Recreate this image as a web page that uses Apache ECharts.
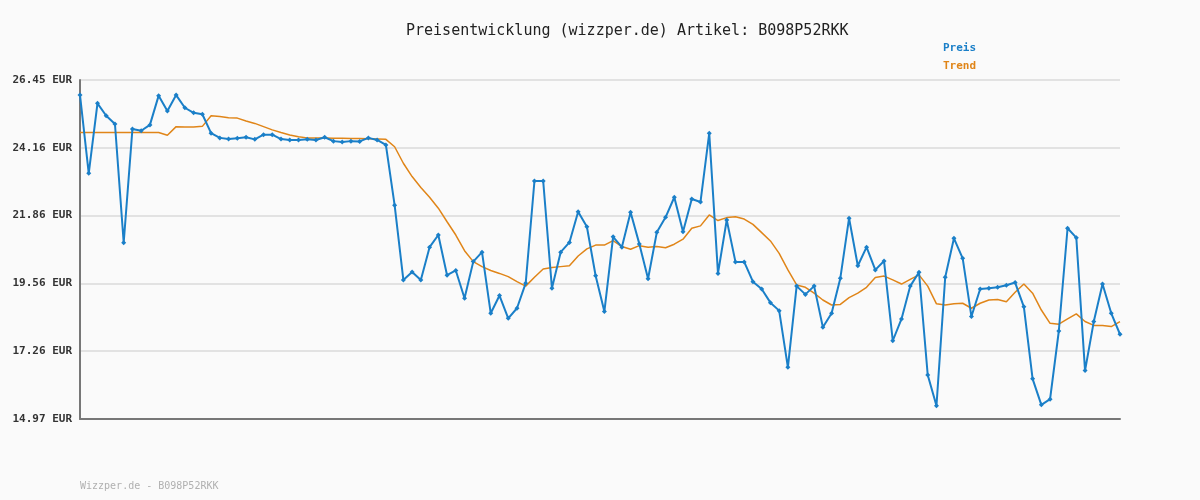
<!DOCTYPE html>
<html>
<head>
<meta charset="utf-8">
<script src="https://cdn.jsdelivr.net/npm/echarts@6/dist/echarts.min.js"></script>
<style>
  html, body { margin: 0; padding: 0; background: #fafafa; }
  #main { width: 1200px; height: 500px; }
</style>
</head>
<body>
<div id="main"></div>
<script>
var preis = [25.94, 23.29, 25.66, 25.24, 24.96, 20.94, 24.79, 24.73, 24.93, 25.92,
  25.40, 25.94, 25.51, 25.34, 25.29, 24.65, 24.49, 24.45, 24.48, 24.51,
  24.44, 24.60, 24.60, 24.45, 24.42, 24.42, 24.44, 24.42, 24.51, 24.38,
  24.35, 24.38, 24.37, 24.49, 24.42, 24.25, 22.21, 19.68, 19.95, 19.68,
  20.79, 21.20, 19.84, 20.00, 19.06, 20.30, 20.62, 18.55, 19.15, 18.38,
  18.72, 19.57, 23.03, 23.03, 19.40, 20.62, 20.95, 21.99, 21.48, 19.82,
  18.61, 21.14, 20.79, 21.97, 20.90, 19.72, 21.29, 21.80, 22.48, 21.31,
  22.42, 22.32, 24.65, 19.90, 21.71, 20.29, 20.29, 19.62, 19.37, 18.91,
  18.64, 16.72, 19.47, 19.19, 19.47, 18.08, 18.55, 19.74, 21.77, 20.16,
  20.79, 20.02, 20.32, 17.62, 18.36, 19.47, 19.94, 16.46, 15.42, 19.77,
  21.09, 20.41, 18.44, 19.37, 19.40, 19.43, 19.50, 19.59, 18.77, 16.33,
  15.45, 15.64, 17.95, 21.43, 21.11, 16.61, 18.27, 19.54, 18.55, 17.84];

var trend = [24.67, 24.67, 24.67, 24.67, 24.67, 24.67, 24.67, 24.67, 24.67, 24.67,
  24.58, 24.87, 24.86, 24.86, 24.88, 25.24, 25.21, 25.17, 25.16, 25.06,
  24.98, 24.87, 24.76, 24.67, 24.59, 24.53, 24.49, 24.49, 24.49, 24.48,
  24.48, 24.47, 24.47, 24.46, 24.45, 24.44, 24.19, 23.63, 23.18, 22.81,
  22.48, 22.11, 21.65, 21.20, 20.67, 20.30, 20.13, 20.00, 19.90, 19.79,
  19.62, 19.47, 19.77, 20.05, 20.10, 20.13, 20.16, 20.49, 20.73, 20.86,
  20.86, 21.01, 20.81, 20.72, 20.84, 20.79, 20.81, 20.77, 20.89, 21.06,
  21.43, 21.51, 21.88, 21.69, 21.79, 21.82, 21.74, 21.56, 21.28, 21.00,
  20.58, 20.02, 19.51, 19.43, 19.23, 19.00, 18.83, 18.85, 19.08, 19.23,
  19.43, 19.76, 19.81, 19.68, 19.54, 19.70, 19.85, 19.47, 18.87, 18.83,
  18.87, 18.89, 18.72, 18.89, 19.00, 19.02, 18.94, 19.26, 19.54, 19.23,
  18.66, 18.21, 18.18, 18.36, 18.53, 18.27, 18.14, 18.14, 18.10, 18.27];

var tickValues = [14.97, 17.26, 19.56, 21.86, 24.16, 26.45];
var categories = preis.map(function (v, i) { return i + 1; });

var mono = "DejaVu Sans Mono";
var chartDom = document.getElementById("main");
var myChart = echarts.init(chartDom);
var option = {
  backgroundColor: "#fafafa",
  animation: false,
  title: {
    text: "Preisentwicklung (wizzper.de) Artikel: B098P52RKK",
    left: 401,
    top: 19,
    textStyle: { fontFamily: mono, fontSize: 15, fontWeight: "normal", color: "#222" }
  },
  legend: {
    orient: "vertical",
    left: 938,
    top: 38,
    itemWidth: 0,
    itemHeight: 0,
    itemGap: 7,
    icon: "none",
    textStyle: { fontFamily: mono, fontSize: 11, fontWeight: "bold", padding: [0, 0, 0, -5] },
    data: [
      { name: "Preis", textStyle: { color: "#1a7fc8" } },
      { name: "Trend", textStyle: { color: "#e08518" } }
    ]
  },
  graphic: [{
    type: "text",
    left: 80,
    top: 481,
    style: { text: "Wizzper.de - B098P52RKK", fill: "#b0b0b0", font: "10px " + mono }
  }],
  grid: { left: 80, right: 80, top: 80, bottom: 81 },
  xAxis: {
    type: "category",
    data: categories,
    boundaryGap: false,
    axisLine: { lineStyle: { color: "#777", width: 2 } },
    axisTick: { show: false },
    axisLabel: { show: false }
  },
  yAxis: {
    type: "value",
    min: 14.97,
    max: 26.45,
    interval: (26.45 - 14.97) / 5,
    axisLine: { show: true, lineStyle: { color: "#777", width: 2 } },
    axisTick: { show: false },
    splitLine: { lineStyle: { color: "#e2e2e2", width: 2 } },
    axisLabel: {
      fontFamily: mono,
      fontSize: 11,
      fontWeight: "bold",
      color: "#333",
      margin: 8,
      formatter: function (v) {
        var best = tickValues[0];
        tickValues.forEach(function (t) { if (Math.abs(t - v) < Math.abs(best - v)) best = t; });
        return best.toFixed(2) + " EUR";
      }
    }
  },
  series: [
    {
      name: "Preis",
      type: "line",
      data: preis,
      symbol: "diamond",
      symbolSize: 5,
      itemStyle: { color: "#1a7fc8" },
      lineStyle: { width: 2, color: "#1a7fc8" },
      z: 3
    },
    {
      name: "Trend",
      type: "line",
      data: trend,
      showSymbol: false,
      symbol: "none",
      itemStyle: { color: "#e08518" },
      lineStyle: { width: 1.5, color: "#e08518" },
      z: 2
    }
  ]
};
option && myChart.setOption(option);
</script>
</body>
</html>
